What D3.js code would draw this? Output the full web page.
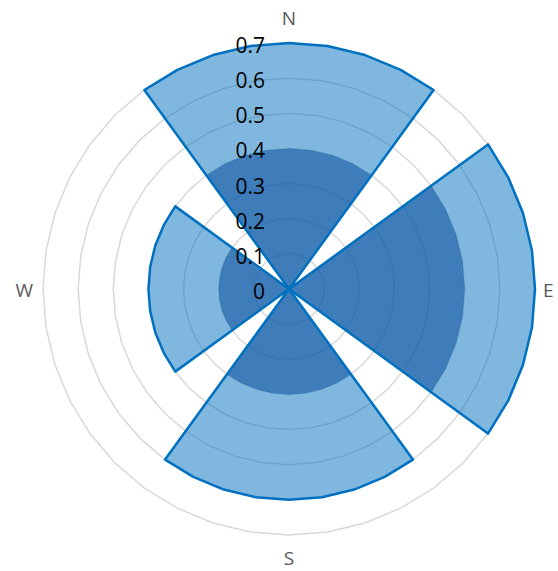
<!DOCTYPE html>
<html>
<head>
<meta charset="utf-8">
<script src="https://cdn.jsdelivr.net/npm/d3@7"></script>
<style>
  body { margin: 0; background: #fff; }
  svg { display: block; }
</style>
</head>
<body>
<div id="chart"></div>
<script>
// ---- data: 40 directions, 9 degrees apart, clockwise from north ----
const categories = [
  "N", "", "", "", "", "", "", "", "", "",
  "E", "", "", "", "", "", "", "", "", "",
  "S", "", "", "", "", "", "", "", "", "",
  "W", "", "", "", "", "", "", "", "", ""
];

// outer (light) series
const outerValues = [
  0.7, 0.7, 0.7, 0.7, 0.7, 0, 0.7, 0.7, 0.7, 0.7,
  0.7, 0.7, 0.7, 0.7, 0.7, 0, 0.6, 0.6, 0.6, 0.6,
  0.6, 0.6, 0.6, 0.6, 0.6, 0, 0.4, 0.4, 0.4, 0.4,
  0.4, 0.4, 0.4, 0.4, 0.4, 0, 0.7, 0.7, 0.7, 0.7
];

// inner (dark) series
const innerValues = [
  0.4, 0.4, 0.4, 0.4, 0.4, 0, 0.5, 0.5, 0.5, 0.5,
  0.5, 0.5, 0.5, 0.5, 0.5, 0, 0.3, 0.3, 0.3, 0.3,
  0.3, 0.3, 0.3, 0.3, 0.3, 0, 0.2, 0.2, 0.2, 0.2,
  0.2, 0.2, 0.2, 0.2, 0.2, 0, 0.4, 0.4, 0.4, 0.4
];

const tickValues = [0, 0.1, 0.2, 0.3, 0.4, 0.5, 0.6, 0.7];
const tickLabels = ["0", "0.1", "0.2", "0.3", "0.4", "0.5", "0.6", "0.7"];

// ---- layout ----
const width = 558, height = 571;
const cx = 289, cy = 289;
const outerR = 246;

const svg = d3.select("#chart").append("svg")
  .attr("width", width)
  .attr("height", height);

const g = svg.append("g").attr("transform", `translate(${cx},${cy})`);

const r = d3.scaleLinear().domain([0, 0.7]).range([0, outerR]);
const angle = d3.scaleLinear().domain([0, categories.length]).range([0, 2 * Math.PI]);

const radial = d3.lineRadial()
  .angle((d, i) => angle(i))
  .radius(d => r(d))
  .curve(d3.curveLinearClosed);

// grid rings (40-sided polygons like the radar gridlines)
g.append("g")
  .selectAll("path")
  .data(tickValues.slice(1))
  .enter()
  .append("path")
  .attr("d", v => radial(categories.map(() => v)))
  .attr("fill", "none")
  .attr("stroke", "#d9d9d9")
  .attr("stroke-width", 1.5);

// light series fill
g.append("path")
  .attr("d", radial(outerValues))
  .attr("fill", "#0070c0")
  .attr("fill-opacity", 0.5);

// dark series fill
g.append("path")
  .attr("d", radial(innerValues))
  .attr("fill", "rgb(19,86,160)")
  .attr("fill-opacity", 0.6);

// light series outline
g.append("path")
  .attr("d", radial(outerValues))
  .attr("fill", "none")
  .attr("stroke", "#0070c0")
  .attr("stroke-width", 2.5)
  .attr("stroke-linejoin", "round");

// value axis labels
g.append("g")
  .selectAll("text")
  .data(tickValues)
  .enter()
  .append("text")
  .attr("x", -24)
  .attr("y", v => -r(v) + 2)
  .attr("text-anchor", "end")
  .attr("dominant-baseline", "central")
  .style("font-family", "'Open Sans', sans-serif")
  .style("font-size", "21px")
  .style("fill", "#000")
  .text((v, i) => tickLabels[i]);

// category labels
const catPos = {
  N: { x: 0, y: -outerR - 25, anchor: "middle" },
  E: { x: outerR + 8, y: 1, anchor: "start" },
  S: { x: 0, y: outerR + 23, anchor: "middle" },
  W: { x: -outerR - 10, y: 1, anchor: "end" }
};

g.append("g")
  .selectAll("text")
  .data(categories.filter(c => c !== ""))
  .enter()
  .append("text")
  .attr("x", c => catPos[c].x)
  .attr("y", c => catPos[c].y)
  .attr("text-anchor", c => catPos[c].anchor)
  .attr("dominant-baseline", "central")
  .style("font-family", "'Open Sans', sans-serif")
  .style("font-size", "19px")
  .style("fill", "#595959")
  .text(c => c);
</script>
</body>
</html>
